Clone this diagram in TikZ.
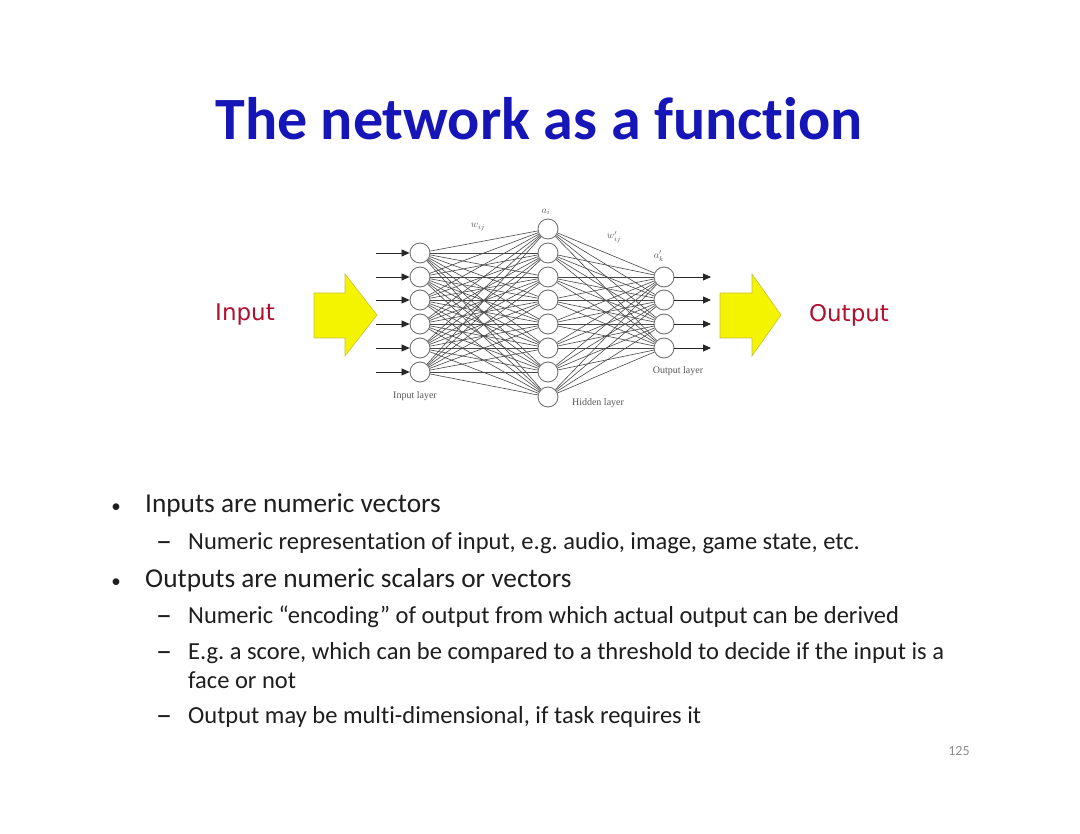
\documentclass[tikz,border=0pt]{standalone}
\usepackage{fontspec}
\setmainfont{Carlito}[Ligatures={NoCommon}]
\newfontfamily\dejavu{DejaVu Sans}
\newfontfamily\netserif{Liberation Serif}
\usetikzlibrary{arrows.meta}
\definecolor{titleblue}{HTML}{1616B8}
\definecolor{iored}{HTML}{B0102E}
\definecolor{bodytext}{HTML}{1E1E1E}
\definecolor{arrowyellow}{HTML}{F4F400}
\definecolor{arrowedge}{HTML}{C8C040}
\frenchspacing
\begin{document}
\begin{tikzpicture}[x=1pt,y=-1pt,
  neuron/.style={circle,draw=black!55,fill=white,line width=0.9pt,minimum size=20pt,inner sep=0pt},
  edge/.style={black!72,line width=0.6pt},
  inarrow/.style={black!85,line width=0.8pt,-{Triangle[length=8pt,width=7pt]}},
  netlabel/.style={font=\netserif\fontsize{10}{12}\selectfont,text=black!65,inner sep=0pt},
  wlabel/.style={font=\fontsize{10}{11}\selectfont,text=black!65,inner sep=0pt},
  bigarrow/.style={fill=arrowyellow,draw=arrowedge,line width=0.6pt},
  iolabel/.style={font=\dejavu\fontsize{23}{26}\selectfont,text=iored,inner sep=0pt},
  bulletmark/.style={font=\fontsize{19}{24}\selectfont,text=bodytext,anchor=base,inner sep=0pt},
  dashmark/.style={font=\fontsize{32}{34}\selectfont,text=bodytext,anchor=base,inner sep=0pt},
  mainbullet/.style={font=\fontsize{27.3}{30}\selectfont,text=bodytext,anchor=base west,inner sep=0pt},
  subbullet/.style={font=\fontsize{24.5}{28}\selectfont,text=bodytext,anchor=base west,inner sep=0pt}]
\useasboundingbox (0,0) rectangle (1080,834);
\fill[white] (0,0) rectangle (1080,834);

% title
\node[font=\bfseries\fontsize{60}{64}\selectfont,text=titleblue,anchor=base,inner sep=0pt] (title) at (539,140) {The network as a function};

% neurons
\foreach \k/\y in {1/253,2/277,3/300,4/324,5/348,6/372}
  \node[neuron] (i\k) at (420,\y) {};
\foreach \k/\y in {1/229,2/253,3/277,4/300,5/324,6/348,7/372,8/397}
  \node[neuron] (h\k) at (548,\y) {};
\foreach \k/\y in {1/277,2/300,3/324,4/348}
  \node[neuron] (o\k) at (664,\y) {};

% connections
\foreach \a in {1,...,6}
  \foreach \b in {1,...,8}
    \draw[edge] (i\a) -- (h\b);
\foreach \a in {1,...,8}
  \foreach \b in {1,...,4}
    \draw[edge] (h\a) -- (o\b);

% input and output arrows
\foreach \k/\y in {1/253,2/277,3/300,4/324,5/348,6/372} {
  \coordinate (is\k) at (376,\y);
  \draw[inarrow] (is\k) -- (i\k);
}
\foreach \k/\y in {1/277,2/300,3/324,4/348} {
  \coordinate (oe\k) at (711,\y);
  \draw[inarrow] (o\k) -- (oe\k);
}

% network labels
\node[netlabel] (linput) at (415,396) {Input layer};
\node[netlabel] (lhidden) at (598,403) {Hidden layer};
\node[netlabel] (loutput) at (678,371) {Output layer};
\node[wlabel] (lw) at (478,227) {$w_{ij}$};
\node[wlabel] (la) at (546,212) {$a_i$};
\node[wlabel] (lw2) at (614,237) {$w'_{ij}$};
\node[wlabel] (la2) at (659,256) {$a'_k$};

% big yellow arrows
\draw[bigarrow] (314,293) -- (345,293) -- (345,274) -- (377,315) -- (345,356) -- (345,338) -- (314,338) -- cycle;
\draw[bigarrow] (720,293) -- (752,293) -- (752,274) -- (781,315) -- (752,356) -- (752,338) -- (720,338) -- cycle;

\node[iolabel] (input) at (245,315) {Input};
\node[iolabel] (output) at (849,315) {Output};

% bullets
\node[bulletmark] (b1m) at (116,512) {•};
\node[mainbullet] (b1) at (145,512) {Inputs are numeric vectors};
\node[dashmark] (s1m) at (164,551) {–};
\node[subbullet] (s1) at (188,549) {Numeric representation of input, e.g. audio, image, game state, etc.};
\node[bulletmark] (b2m) at (116,587) {•};
\node[mainbullet] (b2) at (145,587) {Outputs are numeric scalars or vectors};
\node[dashmark] (s2m) at (164,625) {–};
\node[subbullet] (s2) at (188,623) {Numeric “encoding” of output from which actual output can be derived};
\node[dashmark] (s3m) at (164,661) {–};
\node[subbullet] (s3) at (188,659) {E.g. a score, which can be compared to a threshold to decide if the input is a};
\node[subbullet] (s3b) at (188,688) {face or not};
\node[dashmark] (s4m) at (164,725) {–};
\node[subbullet] (s4) at (188,723) {Output may be multi-dimensional, if task requires it};

\node[font=\fontsize{14}{15}\selectfont,text=black!45,inner sep=0pt] (page) at (959,751) {125};
\end{tikzpicture}
\end{document}
